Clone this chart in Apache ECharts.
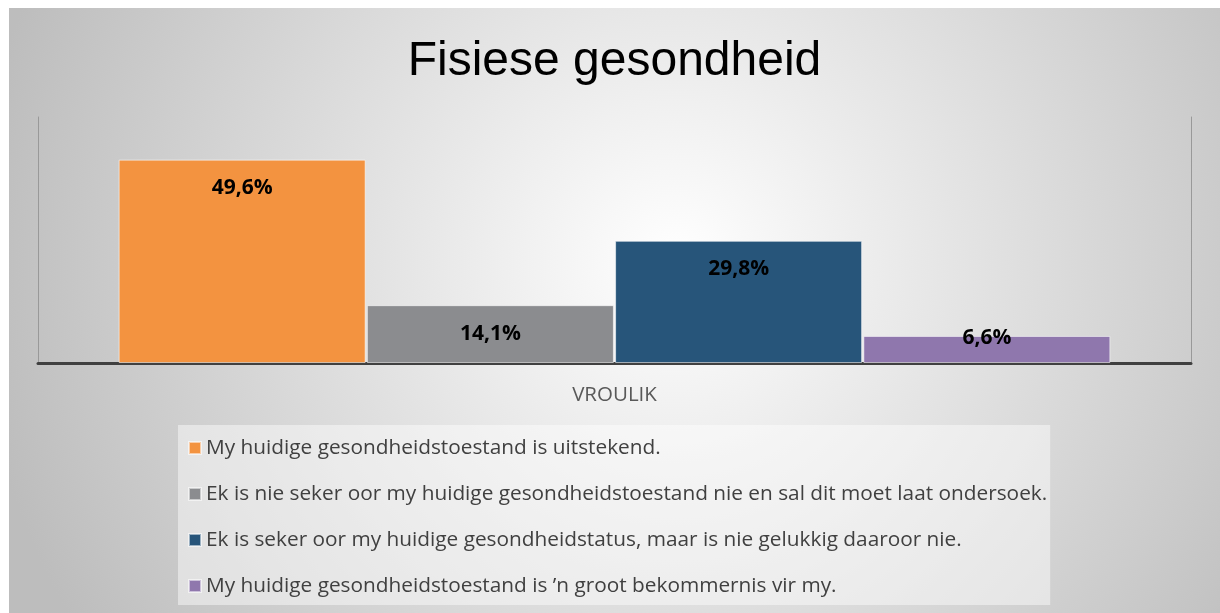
<!DOCTYPE html>
<html>
<head>
<meta charset="utf-8">
<script src="https://cdn.jsdelivr.net/npm/echarts@6/dist/echarts.min.js"></script>
<style>
  html, body { margin: 0; padding: 0; background: #ffffff; }
  #chart { position: absolute; left: 9px; top: 8px; width: 1211px; height: 605px; }
</style>
</head>
<body>
<div id="chart"></div>
<script>
// data
const categories = ['VROULIK'];
const seriesNames = [
    'My huidige gesondheidstoestand is uitstekend.',
    'Ek is nie seker oor my huidige gesondheidstoestand nie en sal dit moet laat ondersoek.',
    'Ek is seker oor my huidige gesondheidstatus, maar is nie gelukkig daaroor nie.',
    'My huidige gesondheidstoestand is \u2019n groot bekommernis vir my.'
];
const values = [49.6, 14.1, 29.8, 6.6];
const colors = ['#F39340', '#8B8C8F', '#27557A', '#8F77AD'];

let chart = echarts.init(document.getElementById('chart'));

let series = seriesNames.map(function (name, i) {
    return {
        name: name,
        type: 'bar',
        data: [values[i]],
        barWidth: 247,
        barGap: '0.5%',
        itemStyle: {
            color: colors[i],
            borderColor: 'rgba(255,255,255,0.55)',
            borderWidth: 1
        },
        label: {
            show: true,
            position: 'insideTop',
            distance: values[i] < 10 ? -8 : 18,
            color: '#000000',
            fontFamily: 'Open Sans',
            fontWeight: 'bold',
            fontSize: 21,
            formatter: function (p) {
                return p.value.toFixed(1).replace('.', ',') + '%';
            }
        }
    };
});

let option = {
    backgroundColor: {
        type: 'radial',
        x: 0.55, y: 0.42, r: 1.16,
        colorStops: [
            { offset: 0, color: '#ffffff' },
            { offset: 1, color: '#bdbdbd' }
        ]
    },
    animation: false,
    title: {
        text: 'Fisiese gesondheid',
        left: 'center',
        top: 30,
        padding: 0,
        textStyle: {
            fontFamily: 'Liberation Sans',
            fontSize: 48,
            fontWeight: 'normal',
            color: '#000000'
        }
    },
    grid: {
        left: 29,
        right: 29,
        top: 109,
        bottom: 250,
        containLabel: false
    },
    legend: {
        orient: 'vertical',
        left: 169,
        top: 417,
        padding: [11, 3, 7, 10],
        itemGap: 22,
        itemWidth: 12,
        itemHeight: 12,
        icon: 'rect',
        backgroundColor: 'rgba(255,255,255,0.45)',
        textStyle: {
            fontFamily: 'Open Sans',
            fontSize: 20.8,
            lineHeight: 24,
            color: '#404040'
        },
        data: seriesNames
    },
    xAxis: {
        type: 'category',
        data: categories,
        axisLine: { lineStyle: { color: '#404040', width: 3 } },
        axisTick: { show: false },
        axisLabel: {
            margin: 22,
            fontFamily: 'Open Sans',
            fontSize: 20.5,
            color: '#595959'
        }
    },
    yAxis: [
        {
            type: 'value',
            min: 0,
            max: 60,
            axisLine: { show: true, lineStyle: { color: '#999999', width: 1 } },
            axisTick: { show: false },
            axisLabel: { show: false },
            splitLine: { show: false }
        },
        {
            type: 'value',
            position: 'right',
            min: 0,
            max: 60,
            axisLine: { show: true, lineStyle: { color: '#999999', width: 1 } },
            axisTick: { show: false },
            axisLabel: { show: false },
            splitLine: { show: false }
        }
    ],
    series: series
};

chart.setOption(option);
window.addEventListener('resize', function () {
    chart.resize();
});
</script>
</body>
</html>
